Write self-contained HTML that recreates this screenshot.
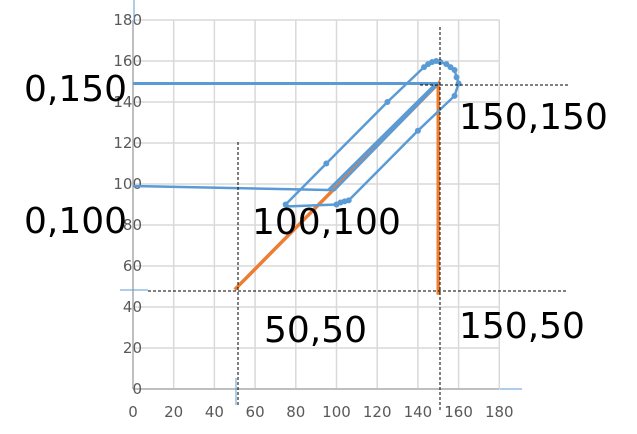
<!DOCTYPE html>
<html><head><meta charset="utf-8"><style>
body{margin:0;background:#fff}
svg{display:block;font-family:"DejaVu Sans","Liberation Sans",sans-serif}
</style></head><body>
<svg id="chart" width="637" height="434" viewBox="0 0 637 434">
<g id="grid"></g>
<g id="ticks"></g>
<g id="series"></g>
<g id="ann"></g>
</svg>
<script>
const xTicks=[0,20,40,60,80,100,120,140,160,180];
const yTicks=[0,20,40,60,80,100,120,140,160,180];
const orangeX=[50,150,150];
const orangeY=[48.5,149,46];
const topLineX=[0,149,96];
const topLineY=[149,149,97];
const midLineX=[0,99,150];
const midLineY=[99,97,149];
const loopX=[75,95,125,143,149,154,158,160,158,140,106,103,101,100,75];
const loopY=[90,110,140,157,160,158.5,155.6,149,143,126,92,91,90.5,90,89];
const loopMarkX=[75,95,125,143,145,147,149,151,154,156,158,159,160,158,140,106,104,102,100];
const loopMarkY=[90,110,140,157,158.5,159.5,160,159.5,158.5,157,155.6,152,149,143,126,92,91.5,91,90];
const labels=[["0,150",24,101],["0,100",24,233],["100,100",252,234],["150,150",459,129],["50,50",264,342],["150,50",459,338]];

const NS="http://www.w3.org/2000/svg";
const X0=133,XS=2.035,Y0=389,YS=2.05;
function sx(v){return X0+v*XS}
function sy(v){return Y0-v*YS}
function mk(t,a,p){const e=document.createElementNS(NS,t);for(const k in a)e.setAttribute(k,a[k]);p.appendChild(e);return e}
const grid=document.getElementById('grid'),ticks=document.getElementById('ticks'),ser=document.getElementById('series'),ann=document.getElementById('ann');
xTicks.forEach(v=>{const l=mk('line',{x1:sx(v),x2:sx(v),y1:sy(180),y2:sy(0),stroke:v===0?'#bfbfbf':'#d9d9d9','stroke-width':v===0?2:1.5},grid);


const t=mk('text',{x:sx(v),y:417,'text-anchor':'middle','font-size':15,fill:'#595959'},ticks);t.textContent=v;

});
yTicks.forEach(v=>{const l=mk('line',{x1:sx(0),x2:sx(180),y1:sy(v),y2:sy(v),stroke:v===0?'#bfbfbf':'#d9d9d9','stroke-width':v===0?2:1.5},grid);


const t=mk('text',{x:142,y:sy(v)+5,'text-anchor':'end','font-size':15,fill:'#595959'},ticks);t.textContent=v;

});
function pts(xs,ys){return xs.map((x,i)=>sx(x)+','+sy(ys[i])).join(' ')}
[[238,142,238,405],[440,27,440,410],[420,85,568,85],[148,291,568,291]].forEach(d=>{const l=mk('line',{x1:d[0],y1:d[1],x2:d[2],y2:d[3],stroke:'#000','stroke-width':1,'stroke-dasharray':'3,2'},ann);

});
[[134,0,134,22],[500,389,522,389],[120,290,148,290],[236,378,236,405]].forEach(d=>{const l=mk('line',{x1:d[0],y1:d[1],x2:d[2],y2:d[3],stroke:'#5b9bd5','stroke-width':1},ann);

});
const o=mk('polyline',{points:pts(orangeX,orangeY),fill:'none',stroke:'#ed7d31','stroke-width':3.5},ser);


const a=mk('polyline',{points:pts(topLineX,topLineY),fill:'none',stroke:'#5b9bd5','stroke-width':3},ser);


const b=mk('polyline',{points:pts(midLineX,midLineY),fill:'none',stroke:'#5b9bd5','stroke-width':2.5},ser);


const c=mk('polyline',{points:pts(loopX,loopY),fill:'none',stroke:'#5b9bd5','stroke-width':2.5},ser);


loopMarkX.forEach((x,i)=>{const m=mk('circle',{cx:sx(x),cy:sy(loopMarkY[i]),r:3,fill:'#5b9bd5'},ser);

});
labels.forEach(l=>{const t=mk('text',{x:l[1],y:l[2],'font-size':36,fill:'#000'},ann);t.textContent=l[0];

});
</script>
</body></html>
